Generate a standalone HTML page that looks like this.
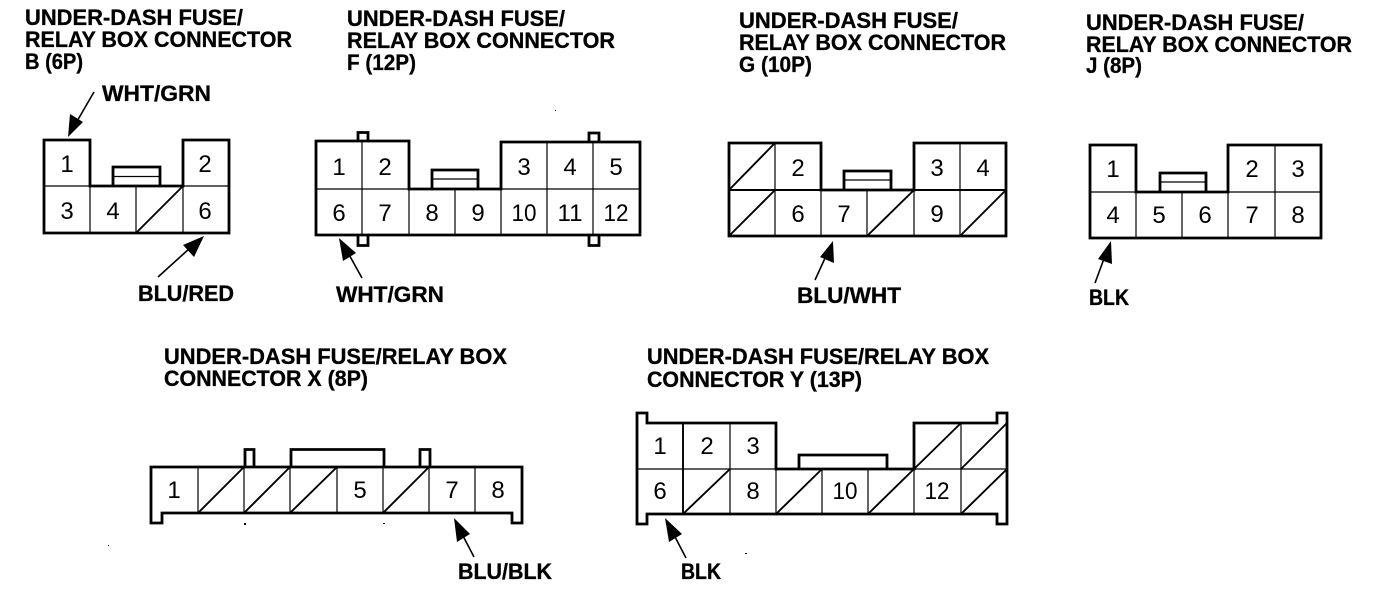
<!DOCTYPE html>
<html>
<head>
<meta charset="utf-8">
<style>
html,body{margin:0;padding:0;background:#fff;width:1392px;height:598px;overflow:hidden}
svg{display:block}
.t{font-family:"Liberation Sans",sans-serif;font-weight:bold;font-size:22px;fill:#000;stroke:#000;stroke-width:.3}
.d{font-family:"Liberation Sans",sans-serif;font-size:24px;fill:#000;text-anchor:middle}
.o{fill:none;stroke:#000;stroke-width:2.8}
.i{fill:none;stroke:#000;stroke-width:1.2}
.m{fill:none;stroke:#000;stroke-width:1.9}
.a{fill:none;stroke:#000;stroke-width:1.6}
</style>
</head>
<body>
<svg width="1392" height="598" viewBox="0 0 1392 598" xmlns="http://www.w3.org/2000/svg">
<rect width="1392" height="598" fill="#fff"/>

<!-- Titles -->
<text class="t" x="25" y="25" textLength="218" lengthAdjust="spacingAndGlyphs">UNDER-DASH FUSE/</text>
<text class="t" x="25" y="47" textLength="267" lengthAdjust="spacingAndGlyphs">RELAY BOX CONNECTOR</text>
<text class="t" x="25" y="69" textLength="58" lengthAdjust="spacingAndGlyphs">B (6P)</text>

<text class="t" x="347" y="26" textLength="218" lengthAdjust="spacingAndGlyphs">UNDER-DASH FUSE/</text>
<text class="t" x="347" y="48" textLength="268" lengthAdjust="spacingAndGlyphs">RELAY BOX CONNECTOR</text>
<text class="t" x="347" y="70" textLength="69" lengthAdjust="spacingAndGlyphs">F (12P)</text>

<text class="t" x="739" y="28" textLength="219" lengthAdjust="spacingAndGlyphs">UNDER-DASH FUSE/</text>
<text class="t" x="739" y="50" textLength="267" lengthAdjust="spacingAndGlyphs">RELAY BOX CONNECTOR</text>
<text class="t" x="739" y="72" textLength="73" lengthAdjust="spacingAndGlyphs">G (10P)</text>

<text class="t" x="1086" y="30" textLength="218" lengthAdjust="spacingAndGlyphs">UNDER-DASH FUSE/</text>
<text class="t" x="1086" y="52" textLength="266" lengthAdjust="spacingAndGlyphs">RELAY BOX CONNECTOR</text>
<text class="t" x="1086" y="73" textLength="56" lengthAdjust="spacingAndGlyphs">J (8P)</text>

<text class="t" x="164" y="364" textLength="343" lengthAdjust="spacingAndGlyphs">UNDER-DASH FUSE/RELAY BOX</text>
<text class="t" x="164" y="386" textLength="204" lengthAdjust="spacingAndGlyphs">CONNECTOR X (8P)</text>

<text class="t" x="647" y="364" textLength="342" lengthAdjust="spacingAndGlyphs">UNDER-DASH FUSE/RELAY BOX</text>
<text class="t" x="647" y="387" textLength="215" lengthAdjust="spacingAndGlyphs">CONNECTOR Y (13P)</text>

<!-- Wire labels -->
<text class="t" x="102" y="101" textLength="109" lengthAdjust="spacingAndGlyphs">WHT/GRN</text>
<text class="t" x="138" y="301" textLength="96" lengthAdjust="spacingAndGlyphs">BLU/RED</text>
<text class="t" x="336" y="302" textLength="108" lengthAdjust="spacingAndGlyphs">WHT/GRN</text>
<text class="t" x="797" y="303" textLength="104" lengthAdjust="spacingAndGlyphs">BLU/WHT</text>
<text class="t" x="1089" y="305" textLength="40" lengthAdjust="spacingAndGlyphs">BLK</text>
<text class="t" x="458" y="579" textLength="94" lengthAdjust="spacingAndGlyphs">BLU/BLK</text>
<text class="t" x="681" y="579" textLength="40" lengthAdjust="spacingAndGlyphs">BLK</text>

<!-- Connector B -->
<path class="o" d="M113 186V167H160V186"/>
<path class="i" d="M113 176.500H160"/>
<path class="o" d="M44 140H90V186H183V140H229V233H44Z"/>
<path class="i" d="M44 186H90M183 186H229M90 186V233M136 186V233M183 186V233"/>
<path class="m" d="M136 233L183 186"/>
<text class="d" x="67" y="172">1</text><text class="d" x="205" y="172">2</text>
<text class="d" x="67" y="219">3</text><text class="d" x="113" y="219">4</text><text class="d" x="205" y="219">6</text>

<!-- Connector F -->
<path class="o" d="M358 141V132.500H368V141M358 235V245.500H368V235M589 142V133H599V142M589 235V245.500H599V235"/>
<path class="o" d="M432 189V170H478V189"/>
<path class="i" d="M432 179H478"/>
<path class="o" d="M316 141H409V189H501V142H640V235H316Z"/>
<path class="i" d="M316 189H409M501 189H640M362 141V235M409 189V235M455 189V235M501 189V235M547 142V235M593 142V235"/>
<text class="d" x="339" y="175">1</text><text class="d" x="385" y="175">2</text><text class="d" x="524" y="175">3</text><text class="d" x="570" y="175">4</text><text class="d" x="616" y="175">5</text>
<text class="d" x="339" y="221">6</text><text class="d" x="385" y="221">7</text><text class="d" x="432" y="221">8</text><text class="d" x="478" y="221">9</text><text class="d" x="524" y="221" textLength="25" lengthAdjust="spacingAndGlyphs">10</text><text class="d" x="570" y="221" textLength="25" lengthAdjust="spacingAndGlyphs">11</text><text class="d" x="616" y="221" textLength="25" lengthAdjust="spacingAndGlyphs">12</text>

<!-- Connector G -->
<path class="o" d="M844 190V171H891V190"/>
<path class="i" d="M844 180H891"/>
<path class="o" d="M729 143H821V190H914V143H1006V236H729Z"/>
<path class="m" d="M729 190H1006"/>
<path class="i" d="M775 143V236M821 190V236M867 190V236M914 190V236M960 143V236"/>
<path class="m" d="M729 190L775 143M729 236L775 190M867 236L914 190M960 236L1006 190"/>
<text class="d" x="798" y="176">2</text><text class="d" x="937" y="176">3</text><text class="d" x="983" y="176">4</text>
<text class="d" x="798" y="222">6</text><text class="d" x="844" y="222">7</text><text class="d" x="937" y="222">9</text>

<!-- Connector J -->
<path class="o" d="M1160 192V173H1206V192"/>
<path class="i" d="M1160 182H1206"/>
<path class="o" d="M1090 145H1136V192H1228V145H1321V238H1090Z"/>
<path class="i" d="M1090 192H1136M1228 192H1321M1136 192V238M1182 192V238M1228 192V238M1275 145V238"/>
<text class="d" x="1113" y="177">1</text><text class="d" x="1252" y="177">2</text><text class="d" x="1298" y="177">3</text>
<text class="d" x="1113" y="223">4</text><text class="d" x="1159" y="223">5</text><text class="d" x="1205" y="223">6</text><text class="d" x="1252" y="223">7</text><text class="d" x="1298" y="223">8</text>

<!-- Connector X -->
<path class="o" d="M245 467V449.500H254V467M291 467V449.500H384V467M420 467V449.500H430V467"/>
<path class="o" d="M151 467H522V523H512V513H162V523H151Z"/>
<path class="i" d="M198 467V513M244 467V513M290 467V513M337 467V513M383 467V513M429 467V513M475 467V513"/>
<path class="m" d="M198 513L244 467M244 513L290 467M290 513L337 467M383 513L429 467"/>
<text class="d" x="174" y="498">1</text><text class="d" x="360" y="498">5</text><text class="d" x="452" y="498">7</text><text class="d" x="498" y="498">8</text>

<!-- Connector Y -->
<path class="o" d="M799 469V455H887V469"/>
<path class="o" d="M637 413H647V423H776V469H914V423H997V413H1007V524H997V514H647V524H637Z"/>
<path class="i" d="M637 469H776M914 469H1007M730 423V514M776 469V514M822 469V514M868 469V514M914 469V514M961 423V514"/>
<path class="m" d="M683 423V514M776 469H914"/>
<path class="m" d="M683 514L730 469M776 514L822 469M868 514L914 469M914 469L961 423M961 469L1007 423M961 514L1007 469"/>
<text class="d" x="660" y="454">1</text><text class="d" x="707" y="454">2</text><text class="d" x="753" y="454">3</text>
<text class="d" x="660" y="499">6</text><text class="d" x="753" y="499">8</text><text class="d" x="845" y="499" textLength="25" lengthAdjust="spacingAndGlyphs">10</text><text class="d" x="937" y="499" textLength="25" lengthAdjust="spacingAndGlyphs">12</text>

<!-- Arrows -->
<path class="a" d="M94 92L76 123"/><path d="M68 137L70 114L83 122Z"/>
<path class="a" d="M158 277L190 248"/><path d="M204 236L194 257L183 245Z"/>
<path class="a" d="M362 278L347 251"/><path d="M339 238L356 253L343 261Z"/>
<path class="a" d="M815 280L826 256"/><path d="M833 241L834 263L820 257Z"/>
<path class="a" d="M1095 283L1105 256"/><path d="M1111 241L1112 264L1098 259Z"/>
<path class="a" d="M474 557L461 532"/><path d="M454 518L470 534L457 542Z"/>
<path class="a" d="M686 558L673 533"/><path d="M665 518L682 534L669 542Z"/>

<!-- Specks -->
<g fill="#000">
<rect x="244" y="523" width="2" height="2"/><rect x="383" y="523" width="2" height="1"/>
<rect x="745" y="553" width="2" height="1"/><rect x="108" y="545" width="1" height="1"/>
<rect x="555" y="110" width="1" height="1"/>
</g>
</svg>
</body>
</html>
